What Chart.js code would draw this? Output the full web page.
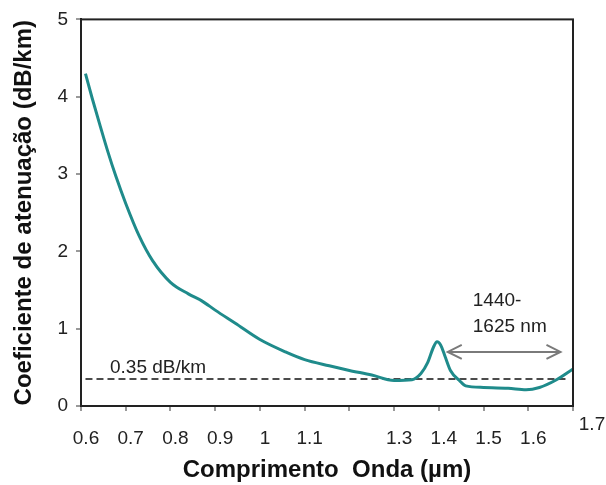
<!DOCTYPE html>
<html>
<head>
<meta charset="utf-8">
<script src="https://cdn.jsdelivr.net/npm/chart.js@4/dist/chart.umd.min.js"></script>
<style>
  html, body { margin: 0; padding: 0; background: #fff; }
  #wrap { position: relative; width: 606px; height: 485px; }
</style>
</head>
<body>
<div id="wrap"><canvas id="lossChart"></canvas></div>
<script>
// wavelength (µm) and attenuation (dB/km)
const wavelength = [0.61, 0.625, 0.643, 0.66, 0.678, 0.7, 0.73, 0.76, 0.8, 0.84, 0.87, 0.9, 0.945, 1.0,
  1.057, 1.1, 1.155, 1.2, 1.25, 1.3, 1.34, 1.36, 1.375, 1.388, 1.396, 1.404, 1.414, 1.426, 1.446, 1.46,
  1.5, 1.555, 1.595, 1.625, 1.66, 1.7];
const attenuation = [4.3, 3.98, 3.62, 3.29, 2.97, 2.62, 2.2, 1.88, 1.6, 1.45, 1.36, 1.24, 1.07, 0.86,
  0.7, 0.6, 0.52, 0.46, 0.4, 0.33, 0.34, 0.42, 0.56, 0.76, 0.83, 0.79, 0.64, 0.46, 0.33, 0.26,
  0.24, 0.23, 0.21, 0.24, 0.33, 0.48];

const xTicks = [0.6, 0.7, 0.8, 0.9, 1, 1.1, 1.2, 1.3, 1.4, 1.5, 1.6, 1.7];
const xHiddenLabels = [1.2, 1.7];
const yTicks = [0, 1, 2, 3, 4, 5];

const thresholdValue = 0.35;
const thresholdRange = [0.61, 1.685];
const thresholdLabel = '0.35 dB/km';

const windowRange = [1.42, 1.672];
const windowLevel = 0.7;
const windowLabel = ['1440-', '1625 nm'];

const xTitle = 'Comprimento  Onda (µm)';
const yTitle = 'Coeficiente de atenuação (dB/km)';

const FONT = '"Liberation Sans", Arial, sans-serif';
const TEAL = '#1f8b8b';

const frameAndNotes = {
  id: 'frameAndNotes',
  afterDatasetsDraw(chart) {
    const { ctx, chartArea, scales } = chart;
    const x = scales.x, y = scales.y;
    ctx.save();

    // box around the plot
    ctx.strokeStyle = '#222';
    ctx.lineWidth = 2;
    ctx.strokeRect(chartArea.left, chartArea.top, chartArea.right - chartArea.left, chartArea.bottom - chartArea.top);

    ctx.fillStyle = '#222';
    ctx.font = '19px ' + FONT;
    ctx.textBaseline = 'middle';

    // dashed line label
    ctx.textAlign = 'left';
    ctx.fillText(thresholdLabel, chartArea.left + 29, y.getPixelForValue(thresholdValue) - 11);

    // double arrow for the window
    const ax1 = x.getPixelForValue(windowRange[0]);
    const ax2 = x.getPixelForValue(windowRange[1]);
    const ay = y.getPixelForValue(windowLevel);
    ctx.strokeStyle = '#7a7a7a';
    ctx.lineWidth = 2;
    ctx.beginPath();
    ctx.moveTo(ax1, ay);
    ctx.lineTo(ax2, ay);
    ctx.moveTo(ax1 + 14, ay - 7);
    ctx.lineTo(ax1, ay);
    ctx.lineTo(ax1 + 14, ay + 7);
    ctx.moveTo(ax2 - 14, ay - 7);
    ctx.lineTo(ax2, ay);
    ctx.lineTo(ax2 - 14, ay + 7);
    ctx.stroke();

    ctx.fillText(windowLabel[0], ax1 + 25, ay - 51);
    ctx.fillText(windowLabel[1], ax1 + 25, ay - 25);

    // last x label sits off the tick, a bit higher
    ctx.textAlign = 'center';
    ctx.fillText('1.7', x.getPixelForValue(1.7) + 19, x.top + 19);

    ctx.restore();
  }
};

new Chart(document.getElementById('lossChart'), {
  type: 'line',
  data: {
    datasets: [{
      data: wavelength.map((w, i) => ({ x: w, y: attenuation[i] })),
      borderColor: TEAL,
      borderWidth: 3,
      pointRadius: 0,
      tension: 0.4,
      cubicInterpolationMode: 'monotone',
      fill: false
    }, {
      data: thresholdRange.map(w => ({ x: w, y: thresholdValue })),
      borderColor: '#111',
      borderWidth: 1.5,
      borderDash: [7, 4],
      pointRadius: 0,
      fill: false
    }]
  },
  options: {
    responsive: true,
    maintainAspectRatio: false,
    animation: false,
    layout: { padding: { top: 19, right: 33, left: 0, bottom: 0 } },
    plugins: {
      legend: { display: false },
      tooltip: { enabled: false }
    },
    scales: {
      x: {
        type: 'linear',
        min: xTicks[0],
        max: xTicks[xTicks.length - 1],
        afterBuildTicks: (scale) => { scale.ticks = xTicks.map(v => ({ value: v })); },
        afterFit: (scale) => { scale.height = 79; },
        ticks: {
          font: { size: 19, family: FONT },
          color: '#222',
          padding: 16,
          labelOffset: 5,
          maxRotation: 0,
          autoSkip: false,
          callback: (value) => {
            const v = Math.round(value * 10) / 10;
            return xHiddenLabels.includes(v) ? '' : String(v);
          }
        },
        grid: { drawOnChartArea: false, tickLength: 5, color: '#999', lineWidth: 2 },
        border: { display: true, color: '#222', width: 2 },
        title: {
          display: true,
          text: xTitle,
          color: '#111',
          font: { size: 24, weight: 'bold', family: FONT },
          padding: { top: 0, bottom: 0 }
        }
      },
      y: {
        min: 0,
        max: 5,
        afterBuildTicks: (scale) => { scale.ticks = yTicks.map(v => ({ value: v })); },
        afterFit: (scale) => { scale.width = 81; },
        ticks: {
          font: { size: 19, family: FONT },
          color: '#222',
          padding: 8
        },
        grid: { drawOnChartArea: false, tickLength: 5, color: '#999', lineWidth: 2 },
        border: { display: true, color: '#222', width: 2 },
        title: {
          display: true,
          text: yTitle,
          color: '#111',
          font: { size: 24, weight: 'bold', family: FONT },
          padding: { top: 10, bottom: 0 }
        }
      }
    }
  },
  plugins: [frameAndNotes]
});
</script>
</body>
</html>
